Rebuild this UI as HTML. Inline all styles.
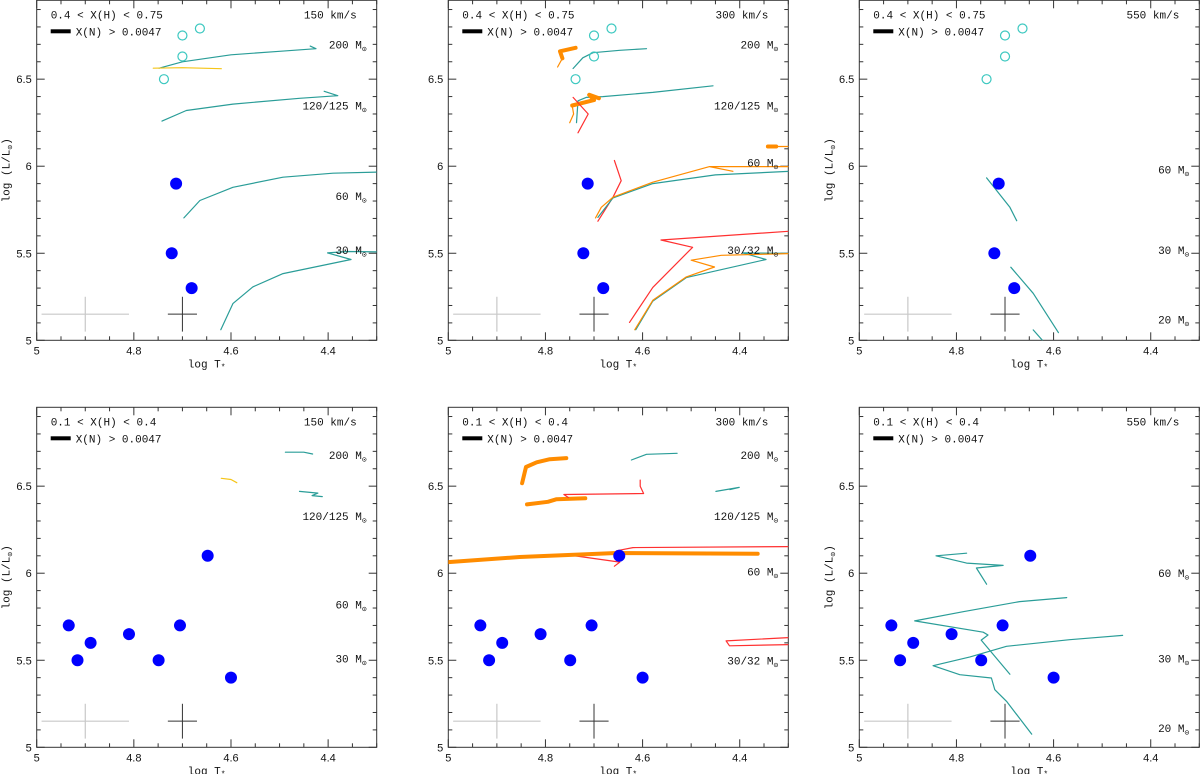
<!DOCTYPE html>
<html><head><meta charset="utf-8"><style>
body{margin:0;background:#fff;width:1200px;height:774px;overflow:hidden}
svg{display:block}
text{font-family:"Liberation Mono","DejaVu Sans Mono",monospace;font-size:11px;fill:#111}
.tk{font-family:"Liberation Sans",sans-serif;font-size:11px}
</style></head><body>
<svg id="chart" width="1200" height="774"></svg>
<script>
// ---- data ----
const xTicks=[5,4.8,4.6,4.4];
const yTicks=[5,5.5,6,6.5];
const pointsTopT=[4.713,4.722,4.681];
const pointsTopL=[5.9,5.5,5.3];
const openTopT=[4.738,4.70,4.70,4.664];
const openTopL=[6.5,6.63,6.751,6.791];
const pointsBotT=[4.934,4.916,4.889,4.810,4.749,4.705,4.648,4.600];
const pointsBotL=[5.7,5.5,5.6,5.65,5.5,5.7,6.1,5.4];
const panelTitles=["0.4 < X(H) < 0.75","0.4 < X(H) < 0.75","0.4 < X(H) < 0.75","0.1 < X(H) < 0.4","0.1 < X(H) < 0.4","0.1 < X(H) < 0.4"];
const panelSpeeds=["150 km/s","300 km/s","550 km/s","150 km/s","300 km/s","550 km/s"];
// tracks: [panel, color, width, [[logT,logL],...]]
const tracks=[
[0,'#2a9d98',1.2,[[4.748,6.563],[4.70,6.60],[4.60,6.64],[4.50,6.66],[4.425,6.675],[4.437,6.69]]],
[0,'#f5c518',1.2,[[4.760,6.563],[4.70,6.566],[4.620,6.560]]],
[0,'#2a9d98',1.2,[[4.742,6.259],[4.692,6.32],[4.596,6.357],[4.459,6.39],[4.380,6.405],[4.408,6.43]]],
[0,'#2a9d98',1.2,[[4.697,5.703],[4.664,5.803],[4.596,5.879],[4.493,5.937],[4.390,5.960],[4.30,5.966]]],
[0,'#2a9d98',1.2,[[4.621,5.061],[4.596,5.211],[4.555,5.307],[4.493,5.383],[4.353,5.464],[4.401,5.502],[4.36,5.51],[4.30,5.508]]],
[1,'#ff8c00',1.2,[[4.77,6.66],[4.765,6.62],[4.775,6.57]]],
[1,'#ff8c00',4,[[4.738,6.68],[4.77,6.66],[4.765,6.62]]],
[1,'#2a9d98',1.2,[[4.743,6.561],[4.723,6.623],[4.702,6.652],[4.647,6.666],[4.592,6.675]]],
[1,'#2a9d98',1.2,[[4.736,6.25],[4.733,6.376],[4.716,6.395],[4.682,6.40],[4.579,6.424],[4.455,6.462]]],
[1,'#ff8c00',1.2,[[4.75,6.25],[4.742,6.30],[4.745,6.349]]],
[1,'#ff8c00',4,[[4.745,6.349],[4.70,6.38],[4.71,6.41],[4.69,6.39]]],
[1,'#ff3030',1.2,[[4.743,6.395],[4.712,6.30],[4.733,6.192]]],
[1,'#ff3030',1.2,[[4.658,6.033],[4.644,5.917],[4.661,5.822],[4.692,5.684]]],
[1,'#2a9d98',1.2,[[4.692,5.706],[4.661,5.818],[4.579,5.90],[4.45,5.95],[4.30,5.97]]],
[1,'#ff8c00',1.2,[[4.697,5.703],[4.685,5.764],[4.661,5.822],[4.579,5.908],[4.462,5.998],[4.414,5.971],[4.462,5.998],[4.30,5.998]]],
[1,'#ff8c00',1.2,[[4.342,6.113],[4.30,6.113]]],
[1,'#ff8c00',4,[[4.342,6.113],[4.325,6.113]]],
[1,'#ff3030',1.2,[[4.627,5.103],[4.579,5.304],[4.497,5.534],[4.562,5.576],[4.30,5.626]]],
[1,'#2a9d98',1.2,[[4.614,5.061],[4.579,5.225],[4.51,5.36],[4.346,5.464],[4.394,5.502],[4.30,5.5]]],
[1,'#ff8c00',1.2,[[4.616,5.061],[4.579,5.23],[4.51,5.364],[4.452,5.421],[4.50,5.46],[4.438,5.488],[4.30,5.498]]],
[2,'#2a9d98',1.2,[[4.738,5.933],[4.690,5.764],[4.676,5.687]]],
[2,'#2a9d98',1.2,[[4.688,5.42],[4.642,5.27],[4.590,5.044]]],
[2,'#2a9d98',1.2,[[4.642,5.06],[4.623,5.0]]],
[3,'#2a9d98',1.2,[[4.488,6.695],[4.45,6.695],[4.432,6.685]]],
[3,'#f5c518',1.2,[[4.620,6.545],[4.60,6.538],[4.588,6.52]]],
[3,'#2a9d98',1.2,[[4.459,6.47],[4.421,6.46],[4.433,6.446],[4.412,6.44]]],
[4,'#ff8c00',4,[[4.848,6.517],[4.840,6.61],[4.818,6.637],[4.791,6.655],[4.757,6.661]]],
[4,'#ff8c00',4,[[4.838,6.395],[4.795,6.41],[4.777,6.425],[4.718,6.43]]],
[4,'#ff3030',1.2,[[4.753,6.435],[4.762,6.452],[4.598,6.458],[4.605,6.50],[4.605,6.535]]],
[4,'#2a9d98',1.2,[[4.623,6.65],[4.592,6.683],[4.529,6.689]]],
[4,'#2a9d98',1.2,[[4.449,6.47],[4.401,6.493],[4.42,6.48]]],
[4,'#ff3030',1.2,[[4.757,6.107],[4.647,6.064],[4.658,6.04],[4.647,6.064],[4.654,6.129],[4.620,6.147],[4.30,6.153]]],
[4,'#ff8c00',4,[[5.0,6.064],[4.853,6.093],[4.654,6.116],[4.363,6.112]]],
[4,'#ff3030',1.2,[[4.30,5.63],[4.428,5.611],[4.421,5.583],[4.30,5.59]]],
[5,'#2a9d98',1.2,[[4.779,6.115],[4.842,6.10],[4.779,6.058],[4.704,6.045],[4.759,6.03],[4.738,5.937]]],
[5,'#2a9d98',1.2,[[4.573,5.86],[4.67,5.837],[4.786,5.779],[4.886,5.726],[4.745,5.661],[4.735,5.645],[4.749,5.616],[4.690,5.42]]],
[5,'#2a9d98',1.2,[[4.458,5.643],[4.567,5.618],[4.697,5.58],[4.772,5.519],[4.848,5.469],[4.793,5.417],[4.728,5.398],[4.721,5.331],[4.697,5.264],[4.645,5.076]]]
];
// mass labels: [panel, text, logL]
const massLabels=[
[0,"200",6.70],[0,"120/125",6.35],[0,"60",5.83],[0,"30",5.52],
[1,"200",6.70],[1,"120/125",6.35],[1,"60",6.02],[1,"30/32",5.52],
[2,"60",5.98],[2,"30",5.52],[2,"20",5.12],
[3,"200",6.68],[3,"120/125",6.33],[3,"60",5.82],[3,"30",5.51],
[4,"200",6.68],[4,"120/125",6.33],[4,"60",6.01],[4,"30/32",5.50],
[5,"60",6.0],[5,"30",5.51],[5,"20",5.11]
];
// ---- drawing ----
const NS='http://www.w3.org/2000/svg';
const svg=document.getElementById('chart');
const lefts=[36.7,448.3,859.3];
const tops=[0.3,407.3];
const W=340,H=340,TMIN=4.3,TMAX=5.0,LMIN=5.0,LMAX=6.953;
function mk(tag,attrs,parent){const e=document.createElementNS(NS,tag);for(const k in attrs)e.setAttribute(k,attrs[k]);(parent||svg).appendChild(e);return e;}
function panelGeom(p){return {x0:lefts[p%3],y0:tops[Math.floor(p/3)]};}
function sx(p,t){return panelGeom(p).x0+(TMAX-t)/(TMAX-TMIN)*W;}
function sy(p,l){return panelGeom(p).y0+H-(l-LMIN)/(LMAX-LMIN)*H;}
for(let p=0;p<6;p++){
  const {x0,y0}=panelGeom(p);
  const g=mk('g',{});
  
  
  const fr=mk('rect',{x:x0,y:y0,width:W,height:H,fill:'none',stroke:'#333','stroke-width':1},g);
  
  
  for(let t=5.0;t>=4.299;t-=0.05){
    const tt=Math.round(t*100)/100;const maj=Math.abs((tt*10)%2)<0.01||Math.abs((tt*10)%2-2)<0.01;
    const X=sx(p,tt);const len=maj?8:4;
    mk('line',{x1:X,y1:y0+H,x2:X,y2:y0+H-len,stroke:'#333'},g);
    mk('line',{x1:X,y1:y0,x2:X,y2:y0+len,stroke:'#333'},g);
  }
  for(let l=5.0;l<=6.95;l+=0.1){
    const ll=Math.round(l*10)/10;const maj=Math.abs((ll*10)%5)<0.01;
    const Y=sy(p,ll);const len=maj?8:4;
    mk('line',{x1:x0,y1:Y,x2:x0+len,y2:Y,stroke:'#333'},g);
    mk('line',{x1:x0+W,y1:Y,x2:x0+W-len,y2:Y,stroke:'#333'},g);
  }
  xTicks.forEach(v=>{const e=mk('text',{x:sx(p,v),y:y0+H+14,'text-anchor':'middle',class:'tk'},g);e.textContent=String(v);
    });
  yTicks.forEach(v=>{const e=mk('text',{x:x0-5,y:sy(p,v)+4,'text-anchor':'end',class:'tk'},g);e.textContent=String(v);
    });
  const xt=mk('text',{x:x0+170,y:y0+H+27,'text-anchor':'middle'},g);
  xt.innerHTML='log T<tspan dy="2" font-size="8">*</tspan>';
  
  if(p%3!==1){
    const yt=mk('text',{transform:`translate(${x0-27},${y0+170}) rotate(-90)`,'text-anchor':'middle'},g);
    yt.innerHTML='log (L/L<tspan dy="3" font-size="8">⊙</tspan><tspan dy="-3">)</tspan>';
    
  }
  const t1=mk('text',{x:x0+14,y:y0+18},g);t1.textContent=panelTitles[p];
  
  const lb=mk('rect',{x:x0+14,y:y0+29,width:20,height:4,fill:'#000'},g);
  
  const t2=mk('text',{x:x0+39,y:y0+35},g);t2.textContent='X(N) > 0.0047';
  
  const t3=mk('text',{x:x0+W-20,y:y0+18,'text-anchor':'end'},g);t3.textContent=panelSpeeds[p];
  
  const c1=mk('g',{stroke:'#c8c8c8','stroke-width':1.2},g);
  
  mk('line',{x1:sx(p,4.99),x2:sx(p,4.81),y1:sy(p,5.15),y2:sy(p,5.15)},c1);
  mk('line',{x1:sx(p,4.90),x2:sx(p,4.90),y1:sy(p,5.05),y2:sy(p,5.25)},c1);
  const c2=mk('g',{stroke:'#333','stroke-width':1},g);
  
  mk('line',{x1:sx(p,4.73),x2:sx(p,4.67),y1:sy(p,5.15),y2:sy(p,5.15)},c2);
  mk('line',{x1:sx(p,4.70),x2:sx(p,4.70),y1:sy(p,5.05),y2:sy(p,5.25)},c2);
}
const clipTop=mk('defs',{});
for(let p=0;p<6;p++){const {x0,y0}=panelGeom(p);const cp=mk('clipPath',{id:'cp'+p},clipTop);mk('rect',{x:x0,y:y0,width:W,height:H},cp);}
tracks.forEach(tr=>{
  const [p,col,w,pts]=tr;
  const d=pts.map((q,i)=>(i?'L':'M')+sx(p,q[0]).toFixed(1)+' '+sy(p,q[1]).toFixed(1)).join(' ');
  const e=mk('path',{d:d,fill:'none',stroke:col,'stroke-width':w,'stroke-linejoin':'round','stroke-linecap':'round','clip-path':`url(#cp${p})`});
  
  
});
massLabels.forEach(m=>{
  const [p,txt,l]=m;const {x0}=panelGeom(p);
  const e=mk('text',{x:x0+W-10,y:sy(p,l)+4,'text-anchor':'end'});
  e.innerHTML=txt+' M<tspan dy="3" font-size="8">⊙</tspan>';
  
  
});
for(let p=0;p<6;p++){
  if(p<3){
    openTopT.forEach((t,i)=>{const c=mk('circle',{cx:sx(p,t),cy:sy(p,openTopL[i]),r:4.5,fill:'none',stroke:'#3cc8c0','stroke-width':1.2});
      });
    pointsTopT.forEach((t,i)=>{const c=mk('circle',{cx:sx(p,t),cy:sy(p,pointsTopL[i]),r:6,fill:'#0000ff'});
      });
  } else {
    pointsBotT.forEach((t,i)=>{const c=mk('circle',{cx:sx(p,t),cy:sy(p,pointsBotL[i]),r:6,fill:'#0000ff'});
      });
  }
}
</script>
</body></html>
